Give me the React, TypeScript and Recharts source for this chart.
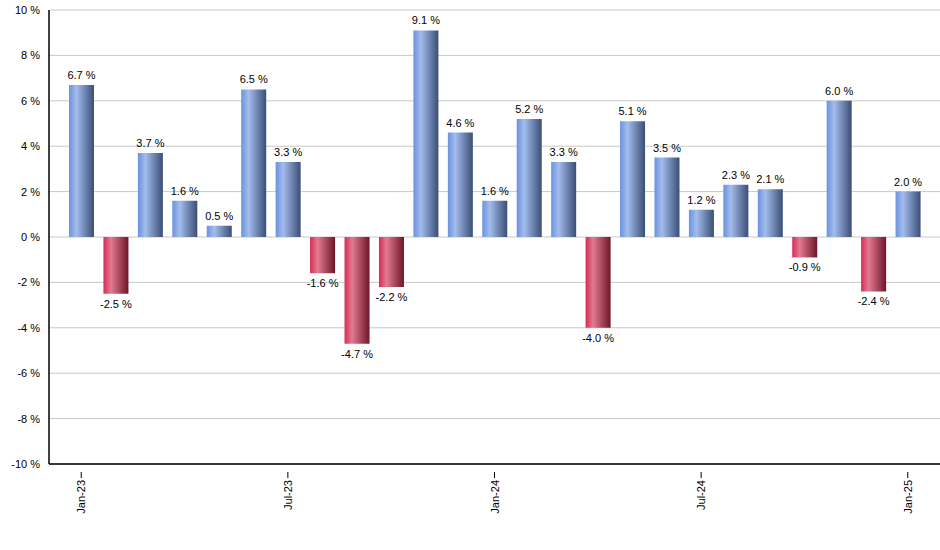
import { BarChart, Bar, XAxis, YAxis, CartesianGrid, LabelList, Cell } from "recharts";

const months = [
  "Jan-23", "Feb-23", "Mar-23", "Apr-23", "May-23", "Jun-23", "Jul-23", "Aug-23", "Sep-23",
  "Oct-23", "Nov-23", "Dec-23", "Jan-24", "Feb-24", "Mar-24", "Apr-24", "May-24", "Jun-24",
  "Jul-24", "Aug-24", "Sep-24", "Oct-24", "Nov-24", "Dec-24", "Jan-25",
];
const returns = [
  6.7, -2.5, 3.7, 1.6, 0.5, 6.5, 3.3, -1.6, -4.7, -2.2, 9.1, 4.6, 1.6, 5.2, 3.3, -4.0, 5.1,
  3.5, 1.2, 2.3, 2.1, -0.9, 6.0, -2.4, 2.0,
];
const yTicks = [-10, -8, -6, -4, -2, 0, 2, 4, 6, 8, 10];

const data = months.map((m, i) => ({ month: m, value: returns[i] }));

const font = "'Liberation Sans', Arial, sans-serif";

const MonthTick = (props: any) => {
  const { x, y, payload } = props;
  return (
    <g transform={`translate(${x},${y})`}>
      <line x1={0} y1={0} x2={0} y2={6} stroke="#000" />
      <text
        transform="rotate(-90)"
        x={-8}
        y={4}
        textAnchor="end"
        fontSize={11}
        fontFamily={font}
        fill="#000"
      >
        {payload.value}
      </text>
    </g>
  );
};

const ValueLabel = (props: any) => {
  const { x, y, width, height, value } = props;
  const neg = value < 0;
  const top = Math.min(y, y + height);
  const bottom = Math.max(y, y + height);
  return (
    <text
      x={x + width / 2}
      y={neg ? bottom + 14 : top - 6}
      textAnchor="middle"
      fontSize={11}
      fontFamily={font}
      fill="#000"
    >
      {value.toFixed(1)} %
    </text>
  );
};

export default function App() {
  return (
    <div style={{ position: "absolute", left: 0, top: 0, background: "#fff" }}>
      <BarChart
        width={940}
        height={550}
        data={data}
        margin={{ top: 10, right: 0, left: 0, bottom: 0 }}
        barSize={25}
      >
        <defs>
          <linearGradient id="posGrad" x1="0" y1="0" x2="1" y2="0">
            <stop offset="0%" stopColor="#6a92e0" />
            <stop offset="30%" stopColor="#a3bcec" />
            <stop offset="100%" stopColor="#3a4e76" />
          </linearGradient>
          <linearGradient id="negGrad" x1="0" y1="0" x2="1" y2="0">
            <stop offset="0%" stopColor="#d82c50" />
            <stop offset="30%" stopColor="#e27a92" />
            <stop offset="100%" stopColor="#6e1628" />
          </linearGradient>
        </defs>
        <CartesianGrid vertical={false} stroke="#c8c8c8" />
        <XAxis
          dataKey="month"
          interval={5}
          tick={<MonthTick />}
          tickLine={false}
          axisLine={{ stroke: "#000", strokeWidth: 1.5 }}
          height={86}
          padding={{ left: 15, right: 15 }}
        />
        <YAxis
          domain={[-10, 10]}
          ticks={yTicks}
          width={49}
          tickLine={false}
          axisLine={{ stroke: "#000", strokeWidth: 1.5 }}
          tickFormatter={(v) => `${v} %`}
          tick={{ fill: "#000", fontSize: 11, fontFamily: font }}
          tickMargin={3}
          interval={0}
          allowDataOverflow
        />
        <Bar dataKey="value" isAnimationActive={false}>
          {data.map((d, i) => (
            <Cell key={i} fill={d.value < 0 ? "url(#negGrad)" : "url(#posGrad)"} />
          ))}
          <LabelList dataKey="value" content={<ValueLabel />} />
        </Bar>
      </BarChart>
    </div>
  );
}
